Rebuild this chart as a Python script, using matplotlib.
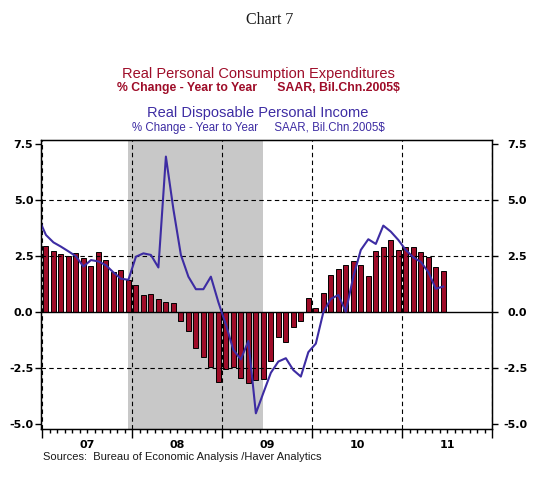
import numpy as np
import matplotlib.pyplot as plt
from matplotlib.ticker import MultipleLocator, FixedLocator, FuncFormatter

plt.rcParams['axes.unicode_minus'] = False
plt.rcParams['font.family'] = 'Liberation Sans'

# Real PCE, % change y/y, Jan 2007 - Jun 2011 (monthly)
pce = [2.96, 2.74, 2.59, 2.51, 2.63, 2.42, 2.07, 2.68, 2.33, 1.79, 1.88, 1.43,
       1.21, 0.77, 0.82, 0.58, 0.46, 0.42, -0.37, -0.85, -1.58, -1.98, -2.43, -3.10,
       -2.54, -2.43, -2.93, -3.17, -3.02, -2.99, -2.19, -1.09, -1.34, -0.64, -0.40, 0.62,
       0.18, 0.88, 1.68, 1.93, 2.13, 2.30, 2.13, 1.64, 2.75, 2.91, 3.23, 2.78,
       2.93, 2.91, 2.67, 2.45, 2.00, 1.86]

# Real disposable personal income, % change y/y, Dec 2006 - Jun 2011
rdpi = [4.2,
        3.45, 3.12, 2.93, 2.72, 2.50, 2.04, 2.33, 2.27, 2.10, 1.78, 1.50, 1.45,
        2.48, 2.63, 2.56, 2.00, 6.95, 4.60, 2.56, 1.59, 1.03, 1.03, 1.59, 0.45,
        -0.55, -1.68, -2.10, -1.28, -4.51, -3.60, -2.70, -2.20, -2.05, -2.58, -2.87, -1.78,
        -1.40, 0.00, 0.60, 0.77, 0.03, 1.59, 2.78, 3.26, 3.05, 3.87, 3.60, 3.23,
        2.78, 2.45, 2.25, 1.80, 1.05, 1.15]

years = ['07', '08', '09', '10', '11']
recession = (11.5, 29.5)   # Dec 2007 - Jun 2009
grid_levels = [-2.5, 2.5, 5.0]

red = '#9e0c28'
blue = '#3d2ca3'

x_bar = np.arange(len(pce)) + 0.5
x_line = np.arange(-1, len(rdpi) - 1) + 0.5

fig = plt.figure(figsize=(5.41, 4.83), dpi=100)
ax = fig.add_axes([40.7/541, 1-429/483, (492-40.7)/541, 289/483])

ax.axvspan(recession[0], recession[1], color='#c8c8c8', lw=0, zorder=0)
ax.bar(x_bar, pce, width=0.68, color=red, edgecolor='black', linewidth=0.7, zorder=2)
for g in grid_levels:
    ax.axhline(g, color='black', lw=0.8, ls=(0, (4, 3)), zorder=3)
ax.axhline(0, color='black', lw=1.0, zorder=3)
ax.plot(x_line, rdpi, color=blue, lw=1.5, zorder=4)

ax.set_xlim(-0.2, 60)
ax.set_ylim(-5.21, 7.69)

ax.xaxis.set_major_locator(MultipleLocator(12))
ax.xaxis.set_minor_locator(MultipleLocator(1))
ax.xaxis.set_major_formatter(FuncFormatter(lambda v, p: ''))
ax.grid(axis='x', which='major', color='black', lw=0.8, ls=(0, (4, 3)), zorder=3)
ax.set_axisbelow(False)
ax.tick_params(axis='x', which='major', direction='out', length=6.5, width=1)
ax.tick_params(axis='x', which='minor', direction='out', length=3, width=1)

yt = [-5.0, -2.5, 0.0, 2.5, 5.0, 7.5]
fmt = FuncFormatter(lambda v, p: '%.1f' % v)
ax.yaxis.set_major_locator(FixedLocator(yt))
ax.yaxis.set_major_formatter(fmt)
ax.tick_params(axis='y', direction='out', length=4.3, width=1, pad=1)
for lab in ax.get_yticklabels():
    lab.set_fontfamily('DejaVu Sans')
    lab.set_fontweight('bold')
    lab.set_fontsize(8)

ax2 = ax.twinx()
ax2.set_ylim(ax.get_ylim())
ax2.yaxis.set_major_locator(FixedLocator(yt))
ax2.yaxis.set_major_formatter(fmt)
ax2.tick_params(axis='y', direction='out', length=4.3, width=1, pad=21)
for lab in ax2.get_yticklabels():
    lab.set_fontfamily('DejaVu Sans')
    lab.set_fontweight('bold')
    lab.set_fontsize(8)
    lab.set_horizontalalignment('right')

sec = ax.secondary_xaxis('bottom')
sec.set_xticks([6 + 12*k for k in range(len(years))], years)
sec.tick_params(length=0, pad=8)
sec.spines['bottom'].set_visible(False)
for lab in sec.get_xticklabels():
    lab.set_fontfamily('DejaVu Sans')
    lab.set_fontweight('bold')
    lab.set_fontsize(8)

for s in ax.spines.values():
    s.set_linewidth(1)

def fy(px):
    return 1 - px/483

fig.text(270/541, fy(20), 'Chart 7', ha='center', va='center',
         family='Liberation Serif', fontsize=11.5, color='#1a1a1a')
fig.text(258/541, fy(74), 'Real Personal Consumption Expenditures', ha='center', va='center',
         fontsize=10.5, color=red)
fig.text(258/541, fy(88), '% Change - Year to Year      SAAR, Bil.Chn.2005$', ha='center', va='center',
         fontsize=8.8, fontweight='bold', color=red)
fig.text(258/541, fy(113), 'Real Disposable Personal Income', ha='center', va='center',
         fontsize=10.5, color=blue)
fig.text(258/541, fy(128), '% Change - Year to Year     SAAR, Bil.Chn.2005$', ha='center', va='center',
         fontsize=8.3, color=blue)
fig.text(43/541, fy(457), 'Sources:  Bureau of Economic Analysis /Haver Analytics', ha='left', va='center',
         fontsize=8, color='#1a1a1a')

fig.savefig('out.png', dpi=100)
